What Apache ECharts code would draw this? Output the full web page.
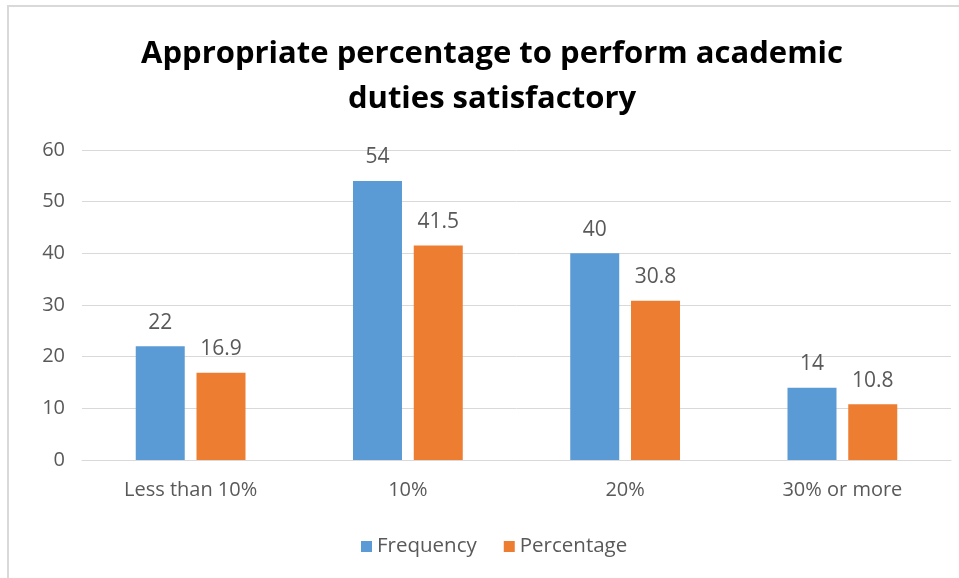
<!DOCTYPE html>
<html>
<head>
<meta charset="utf-8">
<script src="https://cdn.jsdelivr.net/npm/echarts@6/dist/echarts.min.js"></script>
<style>
  body { margin: 0; background: #fff; }
  #frame { position: absolute; left: 7px; top: 5px; width: 952px; height: 573px; border-left: 2px solid #d9d9d9; border-top: 2px solid #d9d9d9; }
  #chart { position: absolute; left: 0; top: 0; width: 959px; height: 578px; }
</style>
</head>
<body>
<div id="frame"></div>
<div id="chart"></div>
<script>
// chart data
var categories = ['Less than 10%', '10%', '20%', '30% or more'];
var frequency = [22, 54, 40, 14];
var percentage = [16.9, 41.5, 30.8, 10.8];
var yTicks = [0, 10, 20, 30, 40, 50, 60];

var font = '"Open Sans", sans-serif';
var grey = '#595959';

var myChart = echarts.init(document.getElementById('chart'));
myChart.setOption({
  animation: false,
  title: {
    text: 'Appropriate percentage to perform academic\nduties satisfactory',
    left: 487,
    top: 27,
    textAlign: 'center',
    textStyle: { fontFamily: font, fontSize: 31, fontWeight: 'bold', color: '#000', lineHeight: 45 }
  },
  legend: {
    data: ['Frequency', 'Percentage'],
    left: 356,
    top: 531,
    itemWidth: 11,
    itemHeight: 11,
    itemGap: 27,
    icon: 'rect',
    textStyle: { fontFamily: font, fontSize: 20.5, color: grey }
  },
  grid: { left: 82, right: 8, top: 150, bottom: 118, containLabel: false },
  xAxis: {
    type: 'category',
    data: categories,
    axisTick: { show: false },
    axisLine: { lineStyle: { color: '#d9d9d9', width: 1 } },
    axisLabel: { fontFamily: font, fontSize: 20, color: grey, margin: 20 }
  },
  yAxis: {
    type: 'value',
    min: yTicks[0],
    max: yTicks[yTicks.length - 1],
    interval: 10,
    axisLine: { show: false },
    axisTick: { show: false },
    splitLine: { lineStyle: { color: '#d9d9d9', width: 1 } },
    axisLabel: { fontFamily: font, fontSize: 20, color: grey, margin: 17 }
  },
  series: [
    {
      name: 'Frequency',
      type: 'bar',
      data: frequency,
      barWidth: 49,
      barGap: '24%',
      itemStyle: { color: '#5b9bd5' },
      label: { show: true, position: 'top', distance: 13, fontFamily: font, fontSize: 21, color: grey }
    },
    {
      name: 'Percentage',
      type: 'bar',
      data: percentage,
      barWidth: 49,
      itemStyle: { color: '#ed7d31' },
      label: { show: true, position: 'top', distance: 13, fontFamily: font, fontSize: 21, color: grey }
    }
  ]
});
</script>
</body>
</html>
